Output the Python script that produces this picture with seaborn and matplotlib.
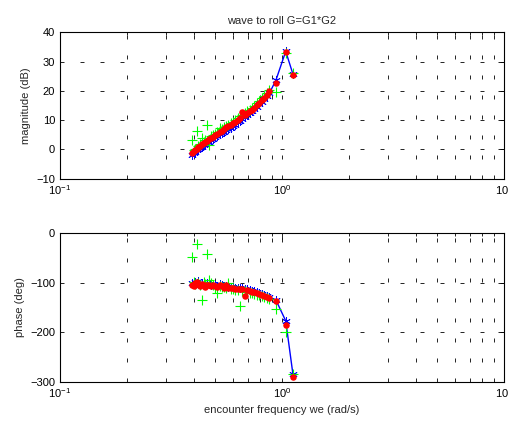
import numpy as np
import pandas as pd
import matplotlib
matplotlib.use("Agg")
import matplotlib.pyplot as plt
import seaborn as sns
from matplotlib.ticker import LogLocator, FixedLocator

# encounter frequency (rad/s), same for all three estimates
freq = [0.394, 0.400, 0.407, 0.414, 0.420, 0.428, 0.436, 0.444, 0.452, 0.460,
        0.470, 0.480, 0.490, 0.500, 0.512, 0.524, 0.536, 0.548, 0.560, 0.574,
        0.588, 0.602, 0.616, 0.632, 0.648, 0.664, 0.680, 0.698, 0.716, 0.734,
        0.752, 0.772, 0.792, 0.812, 0.834, 0.856, 0.878, 0.940, 1.040, 1.120]

# magnitude (dB)
mag_blue = [-1.8, -1.2, -0.8, -0.3, 0.1, 0.5, 1.0, 1.4, 1.8, 2.2,
            2.7, 3.2, 3.6, 4.1, 4.6, 5.1, 5.6, 6.1, 6.5, 7.0,
            7.4, 7.9, 8.5, 9.3, 9.8, 10.5, 11.1, 11.7, 12.4, 13.1,
            13.8, 14.6, 15.5, 16.3, 17.2, 18.2, 19.2, 23.7, 33.5, 25.8]
mag_red = [-1.3, -0.7, -0.3, 0.3, 0.7, 1.2, 1.7, 2.1, 2.6, 3.0,
           3.4, 3.9, 4.4, 4.8, 5.4, 5.9, 6.4, 7.1, 7.5, 7.9,
           8.4, 8.9, 9.5, 10.2, 10.9, 12.8, 11.8, 12.4, 13.0, 13.6,
           14.3, 15.1, 15.9, 16.8, 17.6, 18.6, 19.8, 22.6, 33.2, 25.3]
mag_green = [3.1, -0.1, 0.3, 6.4, 1.3, 1.8, 3.9, 2.7, 3.2, 8.2,
             1.5, 4.5, 5.0, 5.4, 6.0, 7.2, 7.0, 7.7, 8.1, 8.5,
             9.0, 9.5, 10.1, 10.8, 11.4, 11.8, 12.4, 13.0, 13.6, 14.2,
             14.9, 15.7, 16.5, 17.4, 18.2, 19.2, 20.3, 19.7, 33.0, 26.2]

# phase (deg)
ph_blue = [-100, -103, -98, -101, -96, -104, -100, -102, -104, -101,
           -103, -105, -102, -104, -106, -103, -105, -107, -107, -108,
           -108, -109, -110, -110, -111, -111, -112, -113, -115, -116,
           -117, -119, -121, -123, -124, -126, -129, -135, -177, -284]
ph_red = [-104, -106, -101, -99, -103, -107, -102, -105, -108, -104,
          -105, -107, -104, -106, -108, -105, -107, -110, -104, -110,
          -110, -111, -112, -112, -113, -113, -126, -115, -117, -118,
          -119, -121, -123, -125, -126, -128, -130, -136, -186, -291]
ph_green = [-47, -98, -102, -21, -100, -105, -134, -99, -103, -41,
            -95, -100, -104, -110, -121, -106, -108, -109, -111, -100,
            -112, -113, -114, -115, -146, -116, -117, -118, -120, -121,
            -122, -124, -125, -127, -128, -130, -132, -153, -200, -285]

sns.set_theme(style="white")
plt.rcParams["font.family"] = ["Liberation Sans", "DejaVu Sans"]
plt.rcParams["font.size"] = 8

fig = plt.figure(figsize=(5.08, 4.25), dpi=100)
ax1 = fig.add_axes([0.118, 0.5795, 0.874, 0.3445])
ax2 = fig.add_axes([0.118, 0.1019, 0.874, 0.349])

grid_style = dict(color="black", linewidth=0.6, linestyle=(0, (4.8, 19.2)))


def bode_panel(ax, yb, yr, yg, ylim, yticks, ylabel):
    sns.lineplot(x=freq, y=yb, ax=ax, sort=False, color="#0000ff", linewidth=1.0,
                 marker=(6, 2, 0), markersize=6, markeredgecolor="#0000ff",
                 markeredgewidth=0.6, estimator=None, zorder=2)
    sns.scatterplot(x=freq, y=yg, ax=ax, color="#00ff00", marker="+", s=45,
                    linewidth=0.8, zorder=3)
    sns.scatterplot(x=freq, y=yr, ax=ax, color="#ff0000", marker="o", s=22,
                    edgecolor="#ff0000", linewidth=0, zorder=4)
    ax.set_xscale("log")
    ax.set_xlim(0.1, 10)
    ax.set_ylim(*ylim)
    ax.yaxis.set_major_locator(FixedLocator(yticks))
    ax.xaxis.set_major_locator(LogLocator(base=10))
    ax.xaxis.set_minor_locator(LogLocator(base=10, subs=np.arange(2, 10)))
    ax.grid(which="major", axis="both", **grid_style)
    ax.grid(which="minor", axis="x", **grid_style)
    ax.set_axisbelow(True)
    ax.tick_params(which="both", direction="in", top=True, right=True,
                   labelsize=8, colors="black")
    ax.tick_params(which="major", length=4, width=0.6)
    ax.tick_params(which="minor", length=2, width=0.6)
    for s in ax.spines.values():
        s.set_color("black")
        s.set_linewidth(0.8)
    ax.set_ylabel(ylabel, fontsize=8, labelpad=4)
    ax.set_facecolor("white")


bode_panel(ax1, mag_blue, mag_red, mag_green, (-10, 40),
           [-10, 0, 10, 20, 30, 40], "magnitude (dB)")
ax1.set_title("wave to roll G=G1*G2", fontsize=8, pad=6)

bode_panel(ax2, ph_blue, ph_red, ph_green, (-300, 0),
           [-300, -200, -100, 0], "phase (deg)")
ax2.set_xlabel("encounter frequency we (rad/s)", fontsize=8, labelpad=3)

fig.savefig("out.png", dpi=100, facecolor="white")
